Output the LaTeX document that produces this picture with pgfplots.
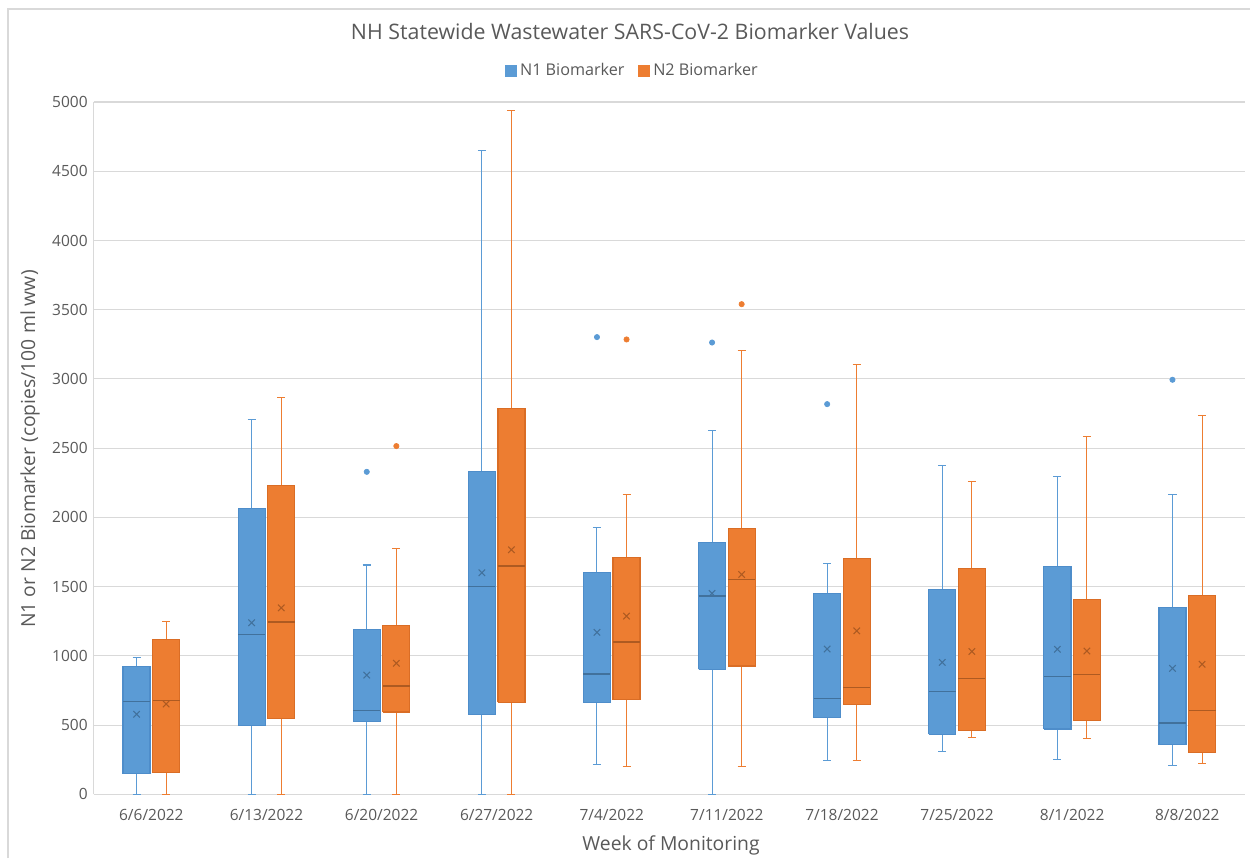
\documentclass[border=0pt]{standalone}
\usepackage{pgfplots}
\pgfplotsset{compat=1.18}
\usepackage{fontspec}
\setmainfont{Open Sans}
\definecolor{n1fill}{HTML}{5B9BD5}
\definecolor{n1edge}{HTML}{4E8DCA}
\definecolor{n1dark}{HTML}{41719C}
\definecolor{n2fill}{HTML}{ED7D31}
\definecolor{n2edge}{HTML}{DA6D25}
\definecolor{n2dark}{HTML}{AE5A21}
\definecolor{gridgray}{HTML}{D9D9D9}
\definecolor{textgray}{HTML}{595959}

\pgfplotsset{
 whiskA/.style={draw=n1fill, line width=0.6pt, no markers, forget plot},
 boxA/.style={draw=n1edge, fill=n1fill, line width=0.7pt, no markers, forget plot},
 medA/.style={draw=n1dark, line width=0.9pt, no markers, forget plot},
 avgA/.style={only marks, mark=x, mark size=2.6pt, mark options={draw=n1dark, line width=0.6pt}, forget plot},
 outA/.style={only marks, mark=*, mark size=1.5pt, mark options={draw=n1fill, fill=n1fill}, forget plot},
 whiskB/.style={draw=n2fill, line width=0.6pt, no markers, forget plot},
 boxB/.style={draw=n2edge, fill=n2fill, line width=0.7pt, no markers, forget plot},
 medB/.style={draw=n2dark, line width=0.9pt, no markers, forget plot},
 avgB/.style={only marks, mark=x, mark size=2.6pt, mark options={draw=n2dark, line width=0.6pt}, forget plot},
 outB/.style={only marks, mark=*, mark size=1.5pt, mark options={draw=n2fill, fill=n2fill}, forget plot},
}
% series (A/B), position, lower whisker, lower quartile, median, upper quartile, upper whisker, average
\newcommand{\bx}[8]{%
 \pgfmathsetmacro{\xl}{#2-0.1175}%
 \pgfmathsetmacro{\xr}{#2+0.1175}%
 \pgfmathsetmacro{\cl}{#2-0.035}%
 \pgfmathsetmacro{\cR}{#2+0.035}%
 \edef\doplots{%
  \noexpand\addplot[whisk#1] coordinates {(#2,#6) (#2,#7)};
  \noexpand\addplot[whisk#1] coordinates {(#2,#3) (#2,#4)};
  \noexpand\addplot[whisk#1] coordinates {(\cl,#7) (\cR,#7)};
  \noexpand\addplot[whisk#1] coordinates {(\cl,#3) (\cR,#3)};
  \noexpand\addplot[box#1] coordinates {(\xl,#4) (\xr,#4) (\xr,#6) (\xl,#6) (\xl,#4)};
  \noexpand\addplot[med#1] coordinates {(\xl,#5) (\xr,#5)};
  \noexpand\addplot[avg#1] coordinates {(#2,#8)};
 }\doplots
}

\begin{document}
\begin{tikzpicture}
\path[use as bounding box] (0,0) rectangle (25cm,17.16cm);
\draw[gridgray, line width=0.6pt] (0.16cm,0) -- (0.16cm,16.98cm) -- (25cm,16.98cm);
\begin{axis}[
  at={(1.876cm,1.274cm)}, anchor=south west,
  scale only axis, width=23.02cm, height=13.846cm,
  xmin=-0.5, xmax=9.5, ymin=0, ymax=5000,
  xtick={0,...,9},
  xticklabels={6/6/2022,6/13/2022,6/20/2022,6/27/2022,7/4/2022,7/11/2022,7/18/2022,7/25/2022,8/1/2022,8/8/2022},
  ytick={0,500,...,5000},
  /pgf/number format/assume math mode=true,
  /pgf/number format/1000 sep={},
  ymajorgrids, major grid style={draw=gridgray, line width=0.6pt},
  axis x line*=bottom, axis y line*=left,
  axis line style={draw=gridgray, line width=0.6pt},
  tick style={draw=none},
  tick label style={text=textgray, font=\fontsize{8.8}{10}\selectfont},
  xticklabel style={yshift=-0.17cm},
  xlabel={Week of Monitoring},
  ylabel={N1 or N2 Biomarker (copies/100 ml ww)},
  label style={text=textgray, font=\fontsize{11}{13}\selectfont},
  xlabel style={at={(axis description cs:0.5015,-0.0732)}, anchor=center},
  ylabel style={at={(axis description cs:-0.0554,0.4988)}, anchor=center},
  title={NH Statewide Wastewater SARS-CoV-2 Biomarker Values},
  title style={at={(axis description cs:0.4659,1.0866)}, anchor=center, text=textgray, font=\fontsize{12.15}{14}\selectfont},
  legend style={draw=none, fill=none, legend columns=2, text=textgray,
     font=\fontsize{9.2}{11}\selectfont,
     at={(axis description cs:0.4685,1.0448)}, anchor=center,
     /tikz/every even column/.append style={column sep=0.2cm}},
  clip=false,
]
\addlegendimage{legend image code/.code={\fill[n1fill] (0cm,-0.11cm) rectangle (0.22cm,0.11cm);}}
\addlegendentry{N1 Biomarker}
\addlegendimage{legend image code/.code={\fill[n2fill] (0cm,-0.11cm) rectangle (0.22cm,0.11cm);}}
\addlegendentry{N2 Biomarker}

% 6/6
\bx{A}{-0.1285}{0}{149}{671}{924}{986}{578}
\bx{B}{0.1285}{0}{156}{679}{1119}{1251}{652}
% 6/13
\bx{A}{0.8715}{0}{495}{1155}{2062}{2708}{1239}
\bx{B}{1.1285}{0}{546}{1246}{2228}{2864}{1347}
% 6/20
\bx{A}{1.8715}{0}{527}{606}{1189}{1656}{861}
\bx{B}{2.1285}{0}{594}{782}{1220}{1776}{946}
% 6/27
\bx{A}{2.8715}{0}{575}{1502}{2329}{4650}{1600}
\bx{B}{3.1285}{0}{664}{1651}{2784}{4939}{1766}
% 7/4
\bx{A}{3.8715}{214}{662}{869}{1603}{1928}{1170}
\bx{B}{4.1285}{204}{683}{1102}{1713}{2166}{1287}
% 7/11
\bx{A}{4.8715}{0}{902}{1434}{1819}{2630}{1451}
\bx{B}{5.1285}{200}{926}{1552}{1921}{3208}{1588}
% 7/18
\bx{A}{5.8715}{245}{553}{693}{1451}{1670}{1049}
\bx{B}{6.1285}{245}{650}{772}{1704}{3102}{1181}
% 7/25
\bx{A}{6.8715}{308}{433}{744}{1480}{2375}{953}
\bx{B}{7.1285}{409}{462}{837}{1632}{2260}{1032}
% 8/1
\bx{A}{7.8715}{253}{471}{852}{1643}{2293}{1047}
\bx{B}{8.1285}{404}{534}{866}{1405}{2587}{1035}
% 8/8
\bx{A}{8.8715}{209}{358}{515}{1350}{2163}{910}
\bx{B}{9.1285}{224}{300}{604}{1437}{2734}{939}

% outliers
\addplot[outA] coordinates {(1.8715,2329) (3.8715,3302) (4.8715,3263) (5.8715,2818) (8.8715,2994)};
\addplot[outB] coordinates {(2.1285,2515) (4.1285,3285) (5.1285,3540)};
\end{axis}
\end{tikzpicture}
\end{document}
